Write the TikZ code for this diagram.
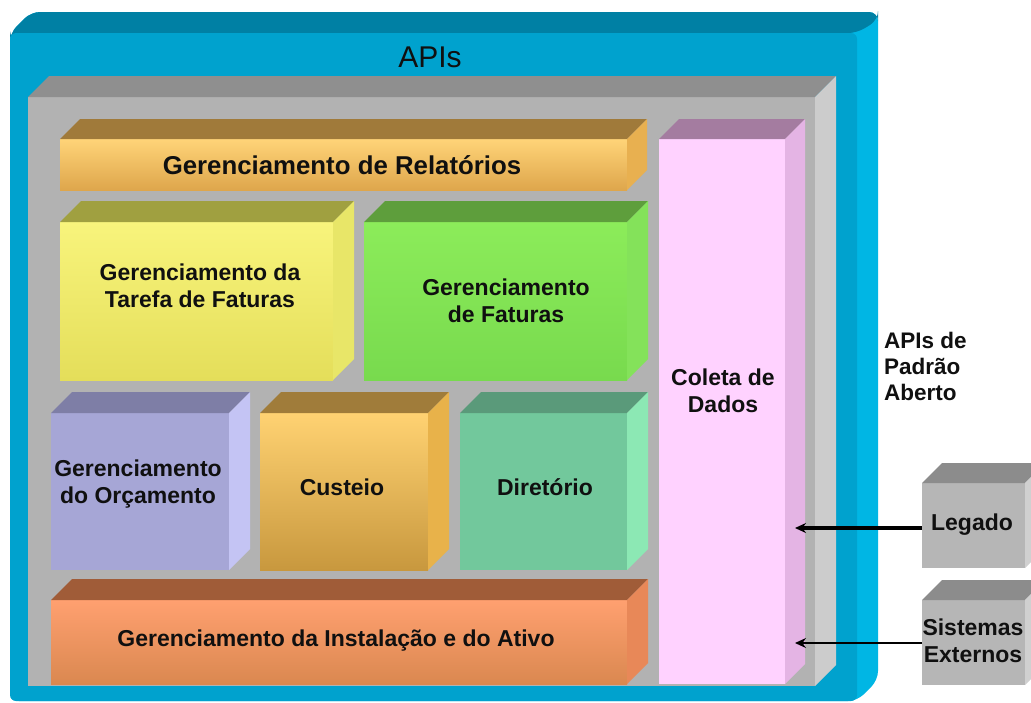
\documentclass[tikz,border=0pt]{standalone}
\usepackage{fontspec}
\setmainfont{Liberation Sans}
\usetikzlibrary{arrows.meta}

\definecolor{bluefront}{HTML}{00A2CE}
\definecolor{bluetop}{HTML}{0080A4}
\definecolor{blueside}{HTML}{00B6E4}
\definecolor{grayfront}{HTML}{B2B2B2}
\definecolor{graytop}{HTML}{8F8F8F}
\definecolor{grayside}{HTML}{CCCCCC}
\definecolor{relA}{HTML}{FFD478}
\definecolor{relB}{HTML}{DEA64C}
\definecolor{relT}{HTML}{A07A3A}
\definecolor{relS}{HTML}{E8B050}
\definecolor{tarA}{HTML}{F8F47C}
\definecolor{tarB}{HTML}{E4DE5A}
\definecolor{tarT}{HTML}{A0A040}
\definecolor{tarS}{HTML}{E8E668}
\definecolor{fatA}{HTML}{8CEC5A}
\definecolor{fatB}{HTML}{78DA4E}
\definecolor{fatT}{HTML}{5E9E3C}
\definecolor{fatS}{HTML}{84E25A}
\definecolor{orcF}{HTML}{A6A6D6}
\definecolor{orcT}{HTML}{7E7EA6}
\definecolor{orcS}{HTML}{C4C4F4}
\definecolor{cusA}{HTML}{FFD272}
\definecolor{cusB}{HTML}{C8983E}
\definecolor{cusT}{HTML}{A07C3A}
\definecolor{cusS}{HTML}{E8B24A}
\definecolor{dirF}{HTML}{72C89C}
\definecolor{dirT}{HTML}{5A9A7A}
\definecolor{dirS}{HTML}{8CE8B4}
\definecolor{insA}{HTML}{FFA070}
\definecolor{insB}{HTML}{DA8850}
\definecolor{insT}{HTML}{A05C38}
\definecolor{insS}{HTML}{E88858}
\definecolor{colF}{HTML}{FFD2FF}
\definecolor{colT}{HTML}{A47CA0}
\definecolor{colS}{HTML}{E4B4E4}
\definecolor{extF}{HTML}{B6B6B6}
\definecolor{extT}{HTML}{8C8C8C}
\definecolor{extS}{HTML}{D0D0D0}
\definecolor{txt}{HTML}{101010}

\tikzset{
  face/.style={draw=none, inner sep=0pt, outer sep=0pt, anchor=north west},
  lbl/.style={font=\fontsize{23}{27}\selectfont\bfseries, align=center, text=txt, inner sep=0pt},
  sidelbl/.style={font=\fontsize{22.5}{26}\selectfont\bfseries, align=left, text=txt, inner sep=0pt},
  feed/.style={-{Stealth[length=11pt,width=10pt]}, draw=black},
}

\newcommand\cubesides[4]{%
  \fill[#2] (#1.north west) -- ++(#4,-#4) -- ([shift={(#4,-#4)}]#1.north east) -- (#1.north east) -- cycle;
  \fill[#3] (#1.north east) -- ++(#4,-#4) -- ([shift={(#4,-#4)}]#1.south east) -- (#1.south east) -- cycle;
}

\begin{document}
\begin{tikzpicture}[x=1pt,y=-1pt]
\useasboundingbox (0,0) rectangle (1031,702);
\clip (0,0) rectangle (1031,702);
\fill[white] (0,0) rectangle (1031,702);

% outer APIs box
\fill[blueside, rounded corners=9pt] (10,33) -- (31,12) -- (878,12) -- (878,680) -- (857,701) -- (10,701) -- cycle;
\fill[bluetop, rounded corners=9pt] (10,40) -- (10,33) -- (31,12) -- (878,12) -- (878,20) -- (857,33) -- cycle;
\node[face, fill=bluefront, rounded corners=6pt, minimum width=847pt, minimum height=668pt] (apis) at (10,33) {};
\node[font=\fontsize{30}{32}\selectfont, text=txt, inner sep=0pt] (apistitle) at (430,57) {APIs};

% inner gray box
\node[face, fill=grayfront, minimum width=787pt, minimum height=589pt] (core) at (28,97) {};
\cubesides{core}{graytop}{grayside}{21}

% Relatorios
\node[face, top color=relA, bottom color=relB, minimum width=567pt, minimum height=51pt] (rel) at (60,139) {};
\cubesides{rel}{relT}{relS}{20}
\node[lbl, font=\fontsize{25.8}{29}\selectfont\bfseries] (relt) at (342,165) {Gerenciamento de Relatórios};

% Tarefa de Faturas
\node[face, top color=tarA, bottom color=tarB, minimum width=273pt, minimum height=158pt] (tar) at (60,222) {};
\cubesides{tar}{tarT}{tarS}{21}
\node[lbl] (tart) at (200,286) {Gerenciamento da\\Tarefa de Faturas};

% Faturas
\node[face, top color=fatA, bottom color=fatB, minimum width=263pt, minimum height=158pt] (fat) at (364,222) {};
\cubesides{fat}{fatT}{fatS}{21}
\node[lbl] (fatt) at (506,301) {Gerenciamento\\de Faturas};

% Orcamento
\node[face, fill=orcF, minimum width=178pt, minimum height=157pt] (orc) at (51,413) {};
\cubesides{orc}{orcT}{orcS}{21}
\node[lbl] (orct) at (138,484) {Gerenciamento\\do Orçamento};

% Custeio
\node[face, top color=cusA, bottom color=cusB, minimum width=168pt, minimum height=157pt] (cus) at (260,413) {};
\cubesides{cus}{cusT}{cusS}{21}
\node[lbl] (cust) at (342,487) {Custeio};

% Diretorio
\node[face, fill=dirF, minimum width=167pt, minimum height=157pt] (dir) at (460,413) {};
\cubesides{dir}{dirT}{dirS}{21}
\node[lbl] (dirt) at (545,487) {Diretório};

% Instalacao
\node[face, top color=insA, bottom color=insB, minimum width=576pt, minimum height=84pt] (ins) at (51,600) {};
\cubesides{ins}{insT}{insS}{21}
\node[lbl] (inst) at (336,641) {Gerenciamento da Instalação e do Ativo};

% Coleta de Dados
\node[face, fill=colF, minimum width=126pt, minimum height=545pt] (col) at (659,139) {};
\cubesides{col}{colT}{colS}{20}
\node[lbl] (colt) at (723,391) {Coleta de\\Dados};

% side text
\node[sidelbl, anchor=north west] (open) at (884,332) {APIs de\\Padrão\\Aberto};

% external systems
\node[face, fill=extF, minimum width=103pt, minimum height=85pt] (leg) at (922,483) {};
\cubesides{leg}{extT}{extS}{20}
\node[lbl] (legt) at (972,525) {Legado};

\node[face, fill=extF, minimum width=103pt, minimum height=85pt] (ext) at (922,600) {};
\cubesides{ext}{extT}{extS}{20}
\node[lbl] (extt) at (973,641) {Sistemas\\Externos};

% arrows
\coordinate (legin) at (795,528);
\coordinate (extin) at (795,643);
\draw[feed, line width=3.6pt] (legin -| leg.west) -- (legin);
\draw[feed, line width=1.6pt] (extin -| ext.west) -- (extin);
\end{tikzpicture}
\end{document}
